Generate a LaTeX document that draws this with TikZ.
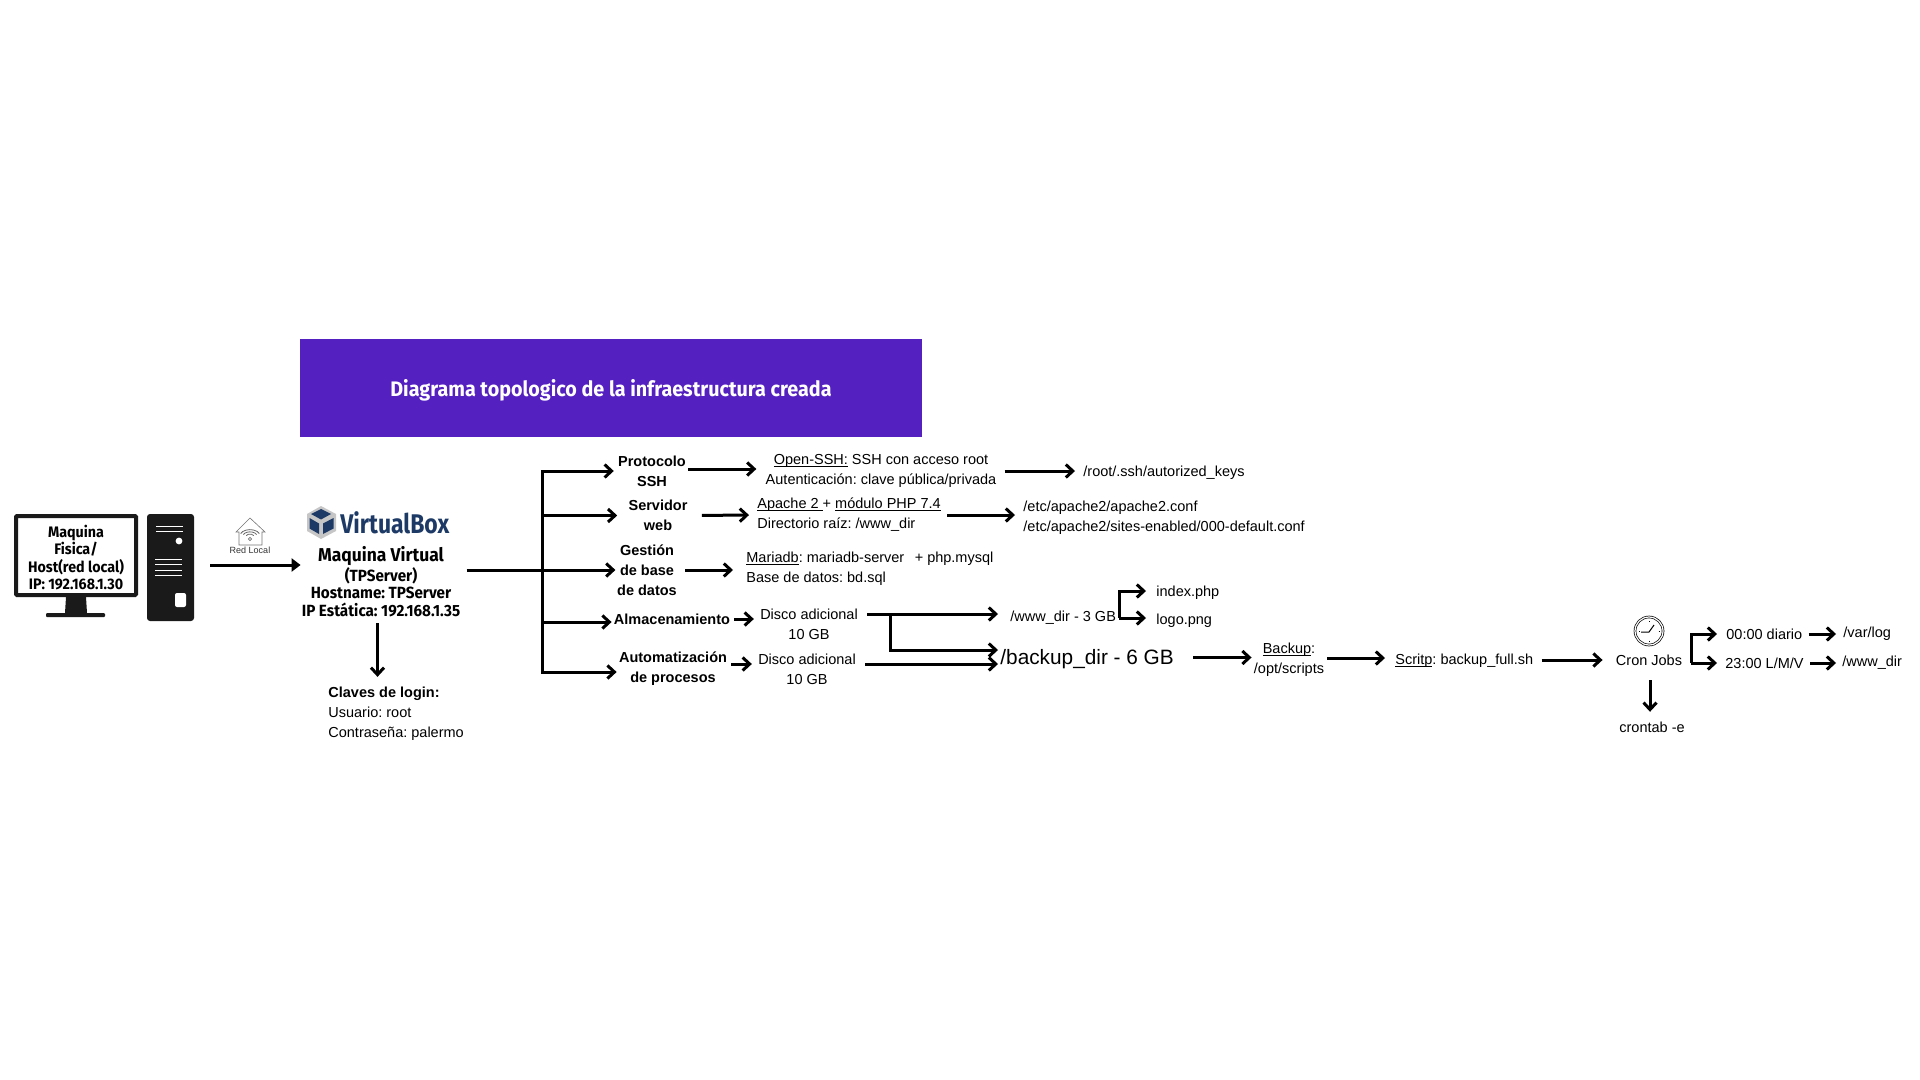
\documentclass[tikz,border=0pt]{standalone}
\usepackage{fontspec}
\setmainfont{Liberation Sans}
\newfontfamily\rotulo[FakeStretch=0.94]{Fira Sans}
\newfontfamily\rotulovbox[FakeStretch=0.85]{Fira Sans}
\frenchspacing
\usepackage{tikz}
\usetikzlibrary{arrows.meta, positioning}
\definecolor{colorTitulo}{RGB}{85,32,192}
\definecolor{colorCaja}{RGB}{26,26,26}
\definecolor{colorVbox}{RGB}{29,58,102}
\newcommand{\subr}[1]{\setbox0\hbox{#1}\rlap{\rule[-1pt]{\wd0}{0.35pt}}\box0\relax}
\tikzset{
  txt/.style={font=\fontsize{7.25}{10}\selectfont, align=center, inner sep=0pt},
  txtizq/.style={txt, align=left, anchor=west},
  txtbold/.style={txt, font=\fontsize{7.25}{10}\selectfont\bfseries},
  pc/.style={inner sep=0pt, align=center, font=\rotulo\bfseries\fontsize{7.6}{8.7}\selectfont},
  flecha/.style={line width=1.5pt, -{Straight Barb[length=3.5pt,width=6.5pt]}},
  flechallena/.style={line width=1.5pt, -{Triangle[length=4.5pt,width=6.5pt]}}
}
\begin{document}
\begin{tikzpicture}[x=0.5pt, y=-0.5pt, >=stealth]
\useasboundingbox (0,0) rectangle (1920,1080);
\node[fill=colorTitulo, minimum width=311pt, minimum height=48.5pt, inner sep=0pt] (cajatitulo) at (611,388) {};
\node[inner sep=0pt, text=white, font=\rotulo\bfseries\fontsize{10.5}{12}\selectfont] (titulo) at (611,390) {Diagrama topologico de la infraestructura creada};
\node[draw=colorCaja, line width=2pt, rounded corners=0.5pt, fill=white, minimum width=60pt, minimum height=39.5pt, inner sep=0pt] (monitor) at (76,555.5) {};
\node[pc] (hostpc) at (76,557.5) {Maquina\\Fisica/\\Host(red local)\\IP: 192.168.1.30};
\fill[colorCaja] (66,597) -- (86,597) -- (87,613) -- (65,613) -- cycle;
\fill[colorCaja, rounded corners=0.5pt] (46,613) rectangle (105,617);
\node[fill=colorCaja, rounded corners=1.5pt, minimum width=23.5pt, minimum height=53.5pt, inner sep=0pt] (torre) at (170.5,567.5) {};
\foreach \yy in {526,531} \draw[white, line width=0.5pt] (156,\yy) -- (183,\yy);
\foreach \yy in {559,564.5,570,575} \draw[white, line width=0.5pt] (155,\yy) -- (182,\yy);
\fill[white] (179,541) circle (1.7pt);
\fill[white, rounded corners=1pt] (175,593) rectangle (186,607);
\draw[gray!90!black, line width=0.3pt] (236,532) -- (250,518) -- (265,532) -- (262,532) -- (262,545) -- (239,545) -- (239,532) -- cycle;
\foreach \rr in {4,7,10} \draw[gray!80!black, line width=0.4pt] (250,537)++(200:\rr) arc[start angle=200, end angle=340, x radius=\rr, y radius=\rr*0.6];
\draw[gray!90!black, line width=0.3pt] (250,539) circle (0.8pt);
\node[txt, font=\fontsize{4.5}{5}\selectfont, text=black!80] (redlocal) at (250,550) {Red Local};
\fill[gray!45] (321,506) -- (336,514) -- (336,531) -- (321,539) -- (307,531) -- (307,514) -- cycle;
\fill[colorVbox] (321,509) -- (331,514) -- (321,519.5) -- (311,514) -- cycle;
\fill[colorVbox] (309.5,518) -- (319,523.5) -- (319,534) -- (309.5,528.5) -- cycle;
\fill[colorVbox] (333.5,518) -- (323,523.5) -- (323,534) -- (333.5,528.5) -- cycle;
\node[inner sep=0pt, anchor=west, text=colorVbox, font=\rotulovbox\bfseries\fontsize{13.5}{15}\selectfont] (vbox) at (340,523) {VirtualBox};
\node[pc, font=\rotulo\bfseries\fontsize{8.1}{8.75}\selectfont] (vm) at (381,581.5) {{\fontsize{9.3}{9}\selectfont Maquina Virtual}\\(TPServer)\\Hostname: TPServer\\IP Estática: 192.168.1.35};
\node[txtizq] (claves) at (328,714) {\textbf{Claves de login:}\\Usuario: root\\Contraseña: palermo};
\node[txtbold] (ssh) at (652,471) {Protocolo\\SSH};
\node[txtbold] (web) at (658,515.5) {Servidor\\web};
\node[txtbold] (bd) at (647,570) {Gestión\\de base\\de datos};
\node[txtbold] (almacen) at (672,619) {Almacenamiento};
\node[txtbold] (auto) at (673,669) {Automatización\\de procesos};
\node[txt] (openssh) at (881,471) {\subr{Open-SSH:} SSH con acceso root\\Autenticación: clave pública/privada};
\node[txtizq] (apache) at (757,515) {\subr{Apache 2\ }+ \subr{módulo PHP 7.4}\\Directorio raíz: /www\_dir};
\node[txtizq] (mariadb) at (746,569) {\subr{Mariadb}: mariadb-server\ \ \kern1.2pt+ php.mysql\\Base de datos: bd.sql};
\node[txt] (disco1) at (809,624) {Disco adicional\\10 GB};
\node[txt] (disco2) at (807,669) {Disco adicional\\10 GB};
\node[txtizq] (keys) at (1083,472.5) {/root/.ssh/autorized\_keys};
\node[txtizq] (conf) at (1023,518) {/etc/apache2/apache2.conf\\/etc/apache2/sites-enabled/000-default.conf};
\node[txtizq] (wwwdir) at (1010,618) {/www\_dir - 3 GB};
\node[txtizq] (index) at (1156,593) {index.php};
\node[txtizq] (logo) at (1156,621) {logo.png};
\node[txtizq, font=\fontsize{10.4}{12}\selectfont] (backupdir) at (1000,659.5) {/backup\_dir - 6 GB};
\node[txt] (backup) at (1289,659.5) {\subr{Backup}:\\/opt/scripts};
\node[txtizq] (script) at (1395,661) {\subr{Scritp}: backup\_full.sh};
\node[draw, double, double distance=0.6pt, line width=0.35pt, circle, minimum size=14pt, inner sep=0pt] (reloj) at (1649,631) {};
\foreach \aa in {0,90,180,270} \draw[line width=0.3pt] (reloj.center)++(\aa:9.5) -- ++(\aa:1);
\draw[line width=0.5pt] (1641,632) -- (1649,632) -- (1654,625);
\node[txt] (cron) at (1649,660) {Cron Jobs};
\node[txt] (crontab) at (1652,727) {crontab -e};
\node[txtizq] (diario) at (1726,634) {00:00 diario};
\node[txtizq] (lmv) at (1725,663) {23:00 L/M/V};
\node[txtizq] (varlog) at (1843,634) {/var/log};
\node[txtizq] (wwwlog) at (1842,663) {/www\_dir};
\coordinate (spine) at (542,570);
\coordinate (forkdisco) at (890,614);
\coordinate (forkwww) at (1119,605);
\coordinate (forkcron) at (1691,648);
\draw[flechallena, shorten <=8pt, shorten >=0.4pt] ([yshift=1.25pt]torre.east) -- ([yshift=1.25pt]torre.east -| vm.west);
\draw[flecha, shorten <=3pt, shorten >=5pt] ([xshift=-1.75pt]vm.south) -- ([xshift=-1.75pt]vm.south |- claves.north);
\draw[flecha, shorten <=3pt, shorten >=0.7pt] (vm.east |- spine) -- (bd.west |- spine);
\draw[line width=1.5pt, line cap=rect] (spine |- ssh.west) -- ([yshift=-1.5pt]spine |- auto.west);
\draw[flecha, shorten >=2pt] (spine |- ssh.west) -- (ssh.west);
\draw[flecha, shorten >=5.5pt] (spine |- web.west) -- (web.west);
\draw[flecha, shorten >=1pt] ([yshift=-1.5pt]spine |- almacen.west) -- ([yshift=-1.5pt]almacen.west);
\draw[flecha, shorten >=1pt] ([yshift=-1.5pt]spine |- auto.west) -- ([yshift=-1.5pt]auto.west);
\draw[flecha, shorten <=1pt, shorten >=4.5pt] ([yshift=1pt]ssh.east) -- ([yshift=1pt]ssh.east -| openssh.west);
\draw[flecha, shorten <=7pt, shorten >=4pt] (web.east) -- (apache.west);
\draw[flecha, shorten <=4pt, shorten >=6.5pt] (bd.east) -- (bd.east -| mariadb.west);
\draw[flecha, shorten <=2pt, shorten >=3pt] (almacen.east) -- (almacen.east -| disco1.west);
\draw[flecha, shorten <=2pt, shorten >=3pt] ([yshift=2.5pt]auto.east) -- ([yshift=2.5pt]auto.east -| disco2.west);
\draw[flecha, shorten <=4pt, shorten >=4pt] (openssh.east) -- (openssh.east -| keys.west);
\draw[flecha, shorten <=3pt, shorten >=4pt] (apache.east) -- (apache.east -| conf.west);
\draw[flecha, shorten <=4.5pt, shorten >=6pt] (disco1.east |- forkdisco) -- (wwwdir.west |- forkdisco);
\draw[flecha, shorten >=1pt] (forkdisco) |- ([yshift=4.75pt]backupdir.west);
\draw[flecha, shorten <=4.5pt, shorten >=1pt] ([yshift=2.5pt]disco2.east) -- ([yshift=2.5pt]disco2.east -| backupdir.west);
\draw[flecha, line join=miter] ([yshift=1.5pt]forkwww |- logo.west) -- ([yshift=1pt]forkwww |- index.west) -- ([xshift=-5pt, yshift=1pt]index.west);
\draw[flecha] ([yshift=1.5pt]forkwww |- logo.west) -- ([xshift=-5pt, yshift=1.5pt]logo.west);
\draw[flecha, shorten <=9.5pt, shorten >=1pt] ([yshift=1pt]backupdir.east) -- ([yshift=1pt]backupdir.east -| backup.west);
\draw[flecha, shorten <=1.5pt, shorten >=5pt] ([yshift=0.75pt]backup.east) -- ([yshift=0.75pt]backup.east -| script.west);
\draw[flecha, shorten <=4pt, shorten >=6.5pt] (script.east |- cron.west) -- (cron.west);
\draw[flecha, line join=miter] (forkcron |- lmv.west) -- (forkcron |- diario.west) -- ([xshift=-4.5pt]diario.west);
\draw[flecha] (forkcron |- lmv.west) -- ([xshift=-4pt]lmv.west);
\draw[flecha, shorten <=3pt, shorten >=3.5pt] (diario.east) -- (varlog.west);
\draw[flecha, shorten <=3pt, shorten >=3pt] (lmv.east) -- (wwwlog.west);
\draw[flecha, shorten <=7.25pt, shorten >=4.75pt] ([xshift=0.5pt]cron.south) -- ([xshift=0.5pt]cron.south |- crontab.north);
\end{tikzpicture}
\end{document}
